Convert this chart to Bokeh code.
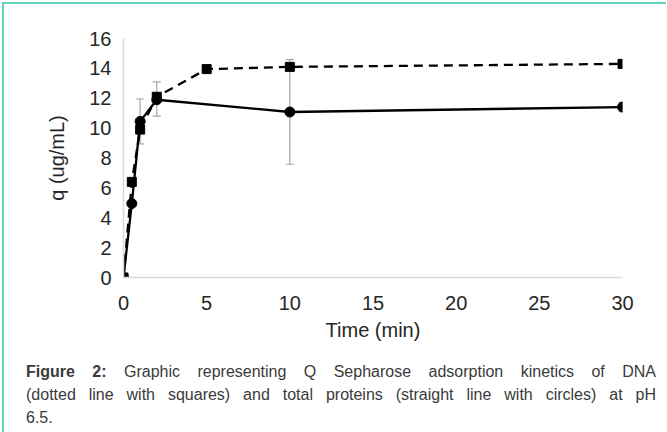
from bokeh.plotting import figure
from bokeh.models import ColumnDataSource, Whisker, Div, FixedTicker
from bokeh.layouts import column
from bokeh.embed import file_html
from bokeh.resources import INLINE

# Data
time_dna = [0, 0.5, 1, 2, 5, 10, 30]
q_dna = [0, 6.4, 9.9, 12.1, 13.95, 14.1, 14.3]

time_prot = [0, 0.5, 1, 2, 10, 30]
q_prot = [0, 4.95, 10.45, 11.9, 11.08, 11.41]

err_time = [1, 2, 10, 30]
err_center = [10.45, 11.95, 11.08, 11.41]
err_size = [1.5, 1.15, 3.5, 0.3]

x_ticks = [0, 5, 10, 15, 20, 25, 30]
y_ticks = [0, 2, 4, 6, 8, 10, 12, 14, 16]

caption_lines = [
    "Graphic representing Q Sepharose adsorption kinetics of DNA",
    "(dotted line with squares) and total proteins (straight line with circles) at pH",
    "6.5.",
]

FONT = "Liberation Sans"
TXT = "#262626"

p = figure(frame_width=499, frame_height=239, x_range=(0, 30), y_range=(0, 16),
           output_backend="svg", toolbar_location=None,
           min_border_left=119, min_border_right=44, min_border_top=34, min_border_bottom=72)
p.outline_line_color = None
p.xgrid.grid_line_color = None
p.ygrid.grid_line_color = None

for ax in (p.xaxis[0], p.yaxis[0]):
    ax.axis_line_color = "#d9d9d9"
    ax.axis_line_width = 1.5
    ax.major_tick_line_color = None
    ax.minor_tick_line_color = None
    ax.major_label_text_font = FONT
    ax.major_label_text_font_size = "20px"
    ax.major_label_text_color = TXT
    ax.axis_label_text_font = FONT
    ax.axis_label_text_font_size = "20px"
    ax.axis_label_text_font_style = "normal"
    ax.axis_label_text_color = TXT

p.xaxis.ticker = FixedTicker(ticks=x_ticks)
p.yaxis.ticker = FixedTicker(ticks=y_ticks)
p.xaxis.axis_label = "Time (min)"
p.yaxis.axis_label = "q (ug/mL)"
p.xaxis.major_label_standoff = 12
p.xaxis.axis_label_standoff = 6
p.yaxis.major_label_standoff = 6
p.yaxis.axis_label_standoff = 18

# error bars
esrc = ColumnDataSource(dict(
    x=err_time,
    upper=[c + e for c, e in zip(err_center, err_size)],
    lower=[c - e for c, e in zip(err_center, err_size)],
))
w = Whisker(source=esrc, base="x", upper="upper", lower="lower",
            line_color="#a6a6a6", line_width=1.2)
for h in (w.upper_head, w.lower_head):
    h.size = 8
    h.line_color = "#a6a6a6"
    h.line_width = 1.2
p.add_layout(w)

# protein (solid, circles)
p.line(time_prot, q_prot, line_color="black", line_width=2.3)
p.scatter(time_prot, q_prot, marker="circle", size=10, color="black")

# DNA (dashed, squares)
p.line(time_dna, q_dna, line_color="black", line_width=2.3, line_dash="9 6")
p.scatter(time_dna, q_dna, marker="square", size=9, color="black")

just = "text-align:justify;text-align-last:justify;white-space:nowrap;"
html = (
    '<div style="margin-left:17px;width:630px;">'
    f'<div style="{just}"><b>Figure 2:</b> {caption_lines[0]}</div>'
    f'<div style="{just}">{caption_lines[1]}</div>'
    f'<div style="text-align:left;">{caption_lines[2]}</div>'
    '</div>'
)

caption = Div(
    text=html,
    width=652,
    styles={"font-family": "'Liberation Sans', Arial, sans-serif",
            "font-size": "16px", "line-height": "23px", "color": "#3a3a3a",
            "padding-top": "6px"},
)

layout = column(p, caption, spacing=0, margin=(2, 0, 0, 2),
                styles={"border-left": "2px solid #5fd3bd", "border-top": "2px solid #5fd3bd"})

open("out.html", "w").write(file_html(layout, INLINE))
